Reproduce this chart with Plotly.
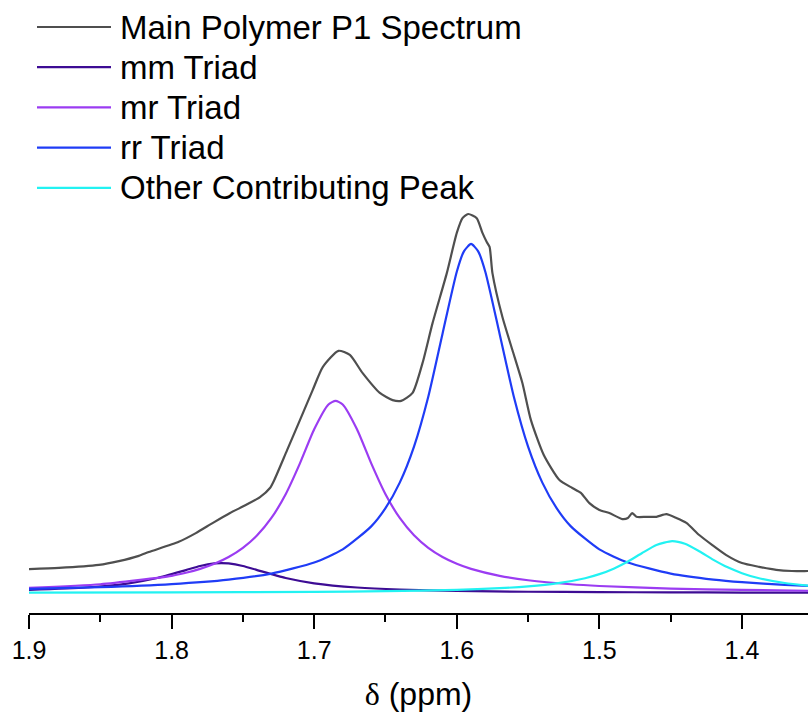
import plotly.graph_objects as go

# ---- data (intensity normalised to the main peak) ----
main_ppm = [1.900, 1.879, 1.851, 1.837, 1.823, 1.816, 1.795, 1.783, 1.771, 1.759,
            1.748, 1.738, 1.731, 1.728, 1.719, 1.710, 1.701, 1.694, 1.683, 1.675,
            1.666, 1.654, 1.645, 1.639, 1.631, 1.624, 1.617, 1.607, 1.600, 1.596,
            1.592, 1.586, 1.582, 1.579, 1.577, 1.575, 1.568, 1.561, 1.554, 1.548,
            1.539, 1.528, 1.519, 1.513, 1.507, 1.500, 1.493, 1.484, 1.480, 1.477,
            1.474, 1.467, 1.460, 1.453, 1.446, 1.439, 1.430, 1.421, 1.411, 1.400,
            1.388, 1.376, 1.365, 1.354, 1.350]
main_int = [0.063, 0.066, 0.074, 0.084, 0.098, 0.108, 0.135, 0.158, 0.185, 0.211,
            0.232, 0.253, 0.277, 0.298, 0.377, 0.456, 0.536, 0.596, 0.639, 0.628,
            0.580, 0.528, 0.509, 0.507, 0.528, 0.607, 0.712, 0.844, 0.950, 0.989,
            1.000, 0.989, 0.950, 0.926, 0.913, 0.844, 0.728, 0.641, 0.554, 0.456,
            0.364, 0.298, 0.277, 0.264, 0.237, 0.219, 0.211, 0.195, 0.198, 0.211,
            0.201, 0.201, 0.201, 0.208, 0.198, 0.185, 0.153, 0.127, 0.100, 0.079,
            0.069, 0.061, 0.058, 0.058, 0.058]

mm_ppm = [1.90, 1.86, 1.83, 1.81, 1.79, 1.78, 1.77, 1.765, 1.76, 1.75, 1.74, 1.72,
          1.70, 1.67, 1.64, 1.60, 1.55, 1.50, 1.45, 1.40, 1.35]
mm_int = [0.0079, 0.0145, 0.0256, 0.0395, 0.0604, 0.0711, 0.0780, 0.0790, 0.0780,
          0.0711, 0.0604, 0.0395, 0.0256, 0.0145, 0.0091, 0.0055, 0.0033, 0.0022,
          0.0016, 0.0012, 0.0009]

mr_ppm = [1.90, 1.85, 1.80, 1.79, 1.78, 1.77, 1.76, 1.75, 1.74, 1.73, 1.72, 1.71,
          1.70, 1.69, 1.685, 1.68, 1.67, 1.66, 1.65, 1.64, 1.63, 1.62, 1.61, 1.60,
          1.59, 1.57, 1.55, 1.52, 1.50, 1.45, 1.40, 1.35]
mr_int = [0.0138, 0.0230, 0.0453, 0.0533, 0.0637, 0.0771, 0.0949, 0.1190, 0.1521,
          0.1979, 0.2606, 0.3420, 0.4320, 0.4974, 0.5070, 0.4974, 0.4320, 0.3420,
          0.2606, 0.1979, 0.1521, 0.1190, 0.0949, 0.0771, 0.0637, 0.0453, 0.0337,
          0.0230, 0.0185, 0.0116, 0.0080, 0.0058]

rr_ppm = [1.90, 1.85, 1.80, 1.76, 1.73, 1.70, 1.68, 1.66, 1.65, 1.64, 1.63, 1.62,
          1.61, 1.60, 1.595, 1.59, 1.585, 1.58, 1.57, 1.56, 1.55, 1.54, 1.53, 1.52,
          1.50, 1.48, 1.45, 1.42, 1.40, 1.37, 1.35]
rr_int = [0.0110, 0.0155, 0.0236, 0.0354, 0.0513, 0.0803, 0.1150, 0.1758, 0.2239,
          0.2912, 0.3863, 0.5179, 0.6842, 0.8477, 0.9015, 0.9210, 0.9015, 0.8477,
          0.6842, 0.5179, 0.3863, 0.2912, 0.2239, 0.1758, 0.1150, 0.0803, 0.0513,
          0.0354, 0.0286, 0.0215, 0.0181]

other_ppm = [1.90, 1.80, 1.70, 1.65, 1.60, 1.57, 1.55, 1.53, 1.51, 1.50, 1.49, 1.48,
             1.47, 1.46, 1.449, 1.44, 1.43, 1.42, 1.41, 1.40, 1.39, 1.37, 1.35]
other_int = [0.0010, 0.0016, 0.0031, 0.0048, 0.0084, 0.0126, 0.0174, 0.0252, 0.0390,
             0.0497, 0.0642, 0.0831, 0.1056, 0.1267, 0.1370, 0.1299, 0.1102, 0.0874,
             0.0676, 0.0523, 0.0409, 0.0263, 0.0180]

x_ticks = [1.9, 1.8, 1.7, 1.6, 1.5, 1.4]
x_tick_labels = ["1.9", "1.8", "1.7", "1.6", "1.5", "1.4"]

series_names = ["Main Polymer P1 Spectrum", "mm Triad", "mr Triad", "rr Triad",
                "Other Contributing Peak"]
series_x = [main_ppm, mm_ppm, mr_ppm, rr_ppm, other_ppm]
series_y = [main_int, mm_int, mr_int, rr_int, other_int]
series_colors = ["#4f4f4f", "#3d0c94", "#9b3cf2", "#1f3cf6", "#22f2f2"]

# ---- layout geometry (pixels) ----
W, H = 808, 716
ML, MB = 29, 103
PLOT_W, PLOT_H = W - ML, H - MB
FONT = "Arial, Liberation Sans, sans-serif"


def px_x(px):
    return (px - ML) / PLOT_W


def px_y(py):
    return (PLOT_H - py) / PLOT_H


fig = go.Figure()
for name, xs, ys, col in zip(series_names, series_x, series_y, series_colors):
    fig.add_trace(go.Scatter(
        x=xs, y=ys, name=name, mode="lines", showlegend=False,
        line=dict(color=col, width=2.2, shape="spline", smoothing=0.6),
    ))

# hand-drawn legend (long line samples like the reference)
shapes, annotations = [], []
row0, row_gap = 27.0, 40.2
for i, (name, col) in enumerate(zip(series_names, series_colors)):
    yy = px_y(row0 + i * row_gap)
    shapes.append(dict(type="line", xref="paper", yref="paper",
                       x0=px_x(37), x1=px_x(111), y0=yy, y1=yy,
                       line=dict(color=col, width=2.2)))
    annotations.append(dict(xref="paper", yref="paper", x=px_x(118), y=yy,
                            xanchor="left", yanchor="middle", showarrow=False,
                            text=name, font=dict(size=33, family=FONT, color="black")))

fig.update_layout(
    width=W, height=H,
    margin=dict(l=ML, r=0, t=0, b=MB),
    paper_bgcolor="white", plot_bgcolor="white",
    font=dict(family=FONT, color="black"),
    showlegend=False,
    shapes=shapes, annotations=annotations,
    xaxis=dict(
        range=[1.9, 1.3537],
        tickmode="array", tickvals=x_ticks, ticktext=x_tick_labels,
        ticks="outside", ticklen=14, tickwidth=2, tickcolor="black",
        minor=dict(dtick=0.05, tick0=1.9, ticks="outside", ticklen=7,
                   tickwidth=2, tickcolor="black", showgrid=False),
        showline=True, linecolor="black", linewidth=2,
        showgrid=False, zeroline=False,
        tickfont=dict(size=25, family=FONT, color="black"),
        title=dict(
            text="<span style='font-family:Liberation Serif, Times New Roman, serif'>δ</span> (ppm)",
            font=dict(size=32, family=FONT, color="black"), standoff=20,
        ),
    ),
    yaxis=dict(
        range=[-0.0528, 1.5646], visible=False, showgrid=False, zeroline=False,
    ),
)

fig.write_html("out.html")
